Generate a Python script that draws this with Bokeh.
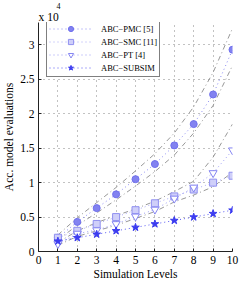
from bokeh.plotting import figure
from bokeh.models import Range1d, FixedTicker, Legend, LegendItem, Title
from bokeh.embed import file_html
from bokeh.resources import INLINE

levels = [1, 2, 3, 4, 5, 6, 7, 8, 9, 10]
abc_pmc = [0.20, 0.43, 0.63, 0.83, 1.05, 1.27, 1.54, 1.85, 2.28, 2.93]
abc_smc = [0.20, 0.30, 0.40, 0.50, 0.60, 0.70, 0.80, 0.90, 1.00, 1.10]
abc_pt = [0.11, 0.26, 0.31, 0.40, 0.51, 0.61, 0.77, 0.93, 1.14, 1.47]
abc_subsim = [0.15, 0.20, 0.25, 0.30, 0.35, 0.40, 0.45, 0.50, 0.55, 0.60]
pmc_upper = [0.24, 0.49, 0.71, 0.93, 1.17, 1.42, 1.72, 2.10, 2.60, 3.24]
pmc_lower = [0.17, 0.38, 0.56, 0.75, 0.95, 1.16, 1.40, 1.72, 2.12, 2.70]
pt_upper = [0.13, 0.30, 0.42, 0.52, 0.62, 0.73, 0.87, 1.02, 1.37, 1.85]
pt_lower = [0.09, 0.22, 0.30, 0.38, 0.48, 0.58, 0.72, 0.82, 0.94, 1.15]
x_ticks = [0, 1, 2, 3, 4, 5, 6, 7, 8, 9, 10]
y_ticks = [0, 0.5, 1, 1.5, 2, 2.5, 3]
y_tick_labels = ["0", "0.5", "1", "1.5", "2", "2.5", "3"]
names = ["ABC\u2212PMC [5]", "ABC\u2212SMC [11]", "ABC\u2212PT [4]", "ABC\u2212SUBSIM"]

FONT = "Liberation Serif"

p = figure(width=243, height=282, output_backend="svg", toolbar_location=None, title=None,
           x_range=Range1d(0, 10), y_range=Range1d(0, 3.325),
           min_border_left=37, min_border_right=11, min_border_top=21, min_border_bottom=31)
p.outline_line_color = None
p.background_fill_color = "white"

for ax in (p.xaxis[0], p.yaxis[0]):
    ax.axis_line_color = "#222222"
    ax.major_tick_line_color = "#222222"
    ax.major_tick_in = 3
    ax.major_tick_out = 0
    ax.minor_tick_line_color = None
    ax.major_label_text_font = FONT
    ax.major_label_text_font_size = "11.5px"
    ax.major_label_text_color = "black"
    ax.major_label_standoff = 4
    ax.axis_label_text_font = FONT
    ax.axis_label_text_font_size = "11.5px"
    ax.axis_label_text_font_style = "normal"
    ax.axis_label_text_color = "black"

p.xaxis.ticker = FixedTicker(ticks=x_ticks)
p.yaxis.ticker = FixedTicker(ticks=y_ticks)
p.yaxis.major_label_overrides = {t: l for t, l in zip(y_ticks, y_tick_labels)}
p.xaxis.axis_label = "Simulation Levels"
p.xaxis.axis_label_standoff = 1
p.yaxis.axis_label = "Acc. model evaluations"
p.yaxis.axis_label_standoff = 2

for g in (p.xgrid[0], p.ygrid[0]):
    g.grid_line_color = "#666666"
    g.grid_line_dash = "1 4"
    g.grid_line_alpha = 0.8
    g.grid_line_width = 1

# bound lines
for arr in (pmc_upper, pmc_lower, pt_upper, pt_lower):
    p.line(levels, arr, line_color="#8c8c8c", line_dash="5 3 1 3", line_width=0.9)

r_pmc_l = p.line(levels, abc_pmc, line_color="#8a8af2", line_dash="1 3", line_width=1)
r_smc_l = p.line(levels, abc_smc, line_color="#a8a8f6", line_dash="1 3", line_width=1)
r_pt_l = p.line(levels, abc_pt, line_color="#9a9af4", line_dash="1 3", line_width=1)
r_sub_l = p.line(levels, abc_subsim, line_color="#5a5af2", line_dash="1 3", line_width=1)

r_pmc = p.scatter(levels, abc_pmc, marker="circle", size=7, fill_color="#8282f0", line_color="#7070ee", line_width=1)
r_smc = p.scatter(levels, abc_smc, marker="square", size=7, fill_color="#cfcff9", line_color="#9090f0", line_width=1)
r_pt = p.scatter(levels, abc_pt, marker="inverted_triangle", size=8, fill_color="white", line_color="#8585f2", line_width=1)
r_sub = p.scatter(levels, abc_subsim, marker="star", size=8, fill_color="#3c3cf0", line_color="#3c3cf0", line_width=1)

legend = Legend(items=[
    LegendItem(label=names[0], renderers=[r_pmc_l, r_pmc]),
    LegendItem(label=names[1], renderers=[r_smc_l, r_smc]),
    LegendItem(label=names[2], renderers=[r_pt_l, r_pt]),
    LegendItem(label=names[3], renderers=[r_sub_l, r_sub]),
], location=(8, 174))
legend.label_text_font = FONT
legend.label_text_font_size = "8.5px"
legend.label_text_color = "black"
legend.glyph_width = 43
legend.glyph_height = 13
legend.label_height = 13
legend.label_standoff = 9
legend.spacing = 0
legend.padding = 2
legend.margin = 0
legend.border_line_color = "black"
legend.border_line_width = 1
legend.background_fill_color = "white"
legend.background_fill_alpha = 1
p.add_layout(legend, "center")

p.add_layout(Title(text="x 10", align="left", offset=0, standoff=0,
                   text_font=FONT, text_font_size="11.5px", text_font_style="normal",
                   text_color="black"), "above")
p.add_layout(Title(text="4", align="left", offset=18, standoff=0,
                   text_font=FONT, text_font_size="8px", text_font_style="normal",
                   text_color="black"), "above")

open("out.html", "w").write(file_html(p, INLINE))
